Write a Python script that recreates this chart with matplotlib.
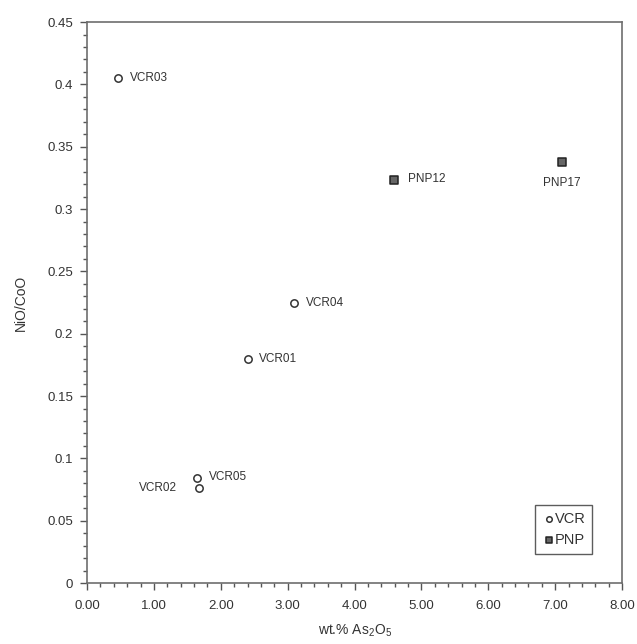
import matplotlib.pyplot as plt
from matplotlib.ticker import MultipleLocator, FormatStrFormatter

plt.rcParams['font.family'] = ['Liberation Sans', 'DejaVu Sans']
plt.rcParams['mathtext.default'] = 'regular'

# data
vcr_names = ['VCR01', 'VCR02', 'VCR03', 'VCR04', 'VCR05']
vcr_x = [2.41, 1.67, 0.46, 3.09, 1.64]
vcr_y = [0.180, 0.076, 0.405, 0.225, 0.084]

pnp_names = ['PNP12', 'PNP17']
pnp_x = [4.59, 7.10]
pnp_y = [0.323, 0.338]

fig = plt.figure(figsize=(6.37, 6.44), dpi=100)
ax = fig.add_axes([0.1366, 0.0947, 0.84, 0.871])

ax.scatter(vcr_x, vcr_y, s=28, facecolors='white', edgecolors='#333333', linewidths=1.1, label='VCR', zorder=3)
ax.scatter(pnp_x, pnp_y, s=30, marker='s', facecolors='#666666', edgecolors='#222222', linewidths=1.1, label='PNP', zorder=3)

# point labels
txt = dict(fontsize=8.5, color='#333333')
offsets = {
    'VCR01': (8, 0, 'left', 'center'),
    'VCR02': (-16, 0, 'right', 'center'),
    'VCR03': (9, 0, 'left', 'center'),
    'VCR04': (9, 0, 'left', 'center'),
    'VCR05': (9, 1, 'left', 'center'),
    'PNP12': (10, 1, 'left', 'center'),
    'PNP17': (0, -11, 'center', 'top'),
}
for n, x, y in zip(vcr_names + pnp_names, vcr_x + pnp_x, vcr_y + pnp_y):
    dx, dy, ha, va = offsets[n]
    ax.annotate(n, (x, y), xytext=(dx, dy), textcoords='offset points', ha=ha, va=va, **txt)

ax.set_xlim(0, 8)
ax.set_ylim(0, 0.45)
ax.xaxis.set_major_locator(MultipleLocator(1))
ax.xaxis.set_minor_locator(MultipleLocator(0.2))
ax.xaxis.set_major_formatter(FormatStrFormatter('%.2f'))
ax.yaxis.set_major_locator(MultipleLocator(0.05))
ax.yaxis.set_minor_locator(MultipleLocator(0.01))
ax.yaxis.set_major_formatter(lambda v, p: ('%.2f' % v).rstrip('0').rstrip('.') if v else '0')

for s in ax.spines.values():
    s.set_color('#6e6e6e')
    s.set_linewidth(1.2)
ax.tick_params(which='both', direction='out', colors='#555555', labelcolor='#333333', labelsize=9.5)
ax.tick_params(which='major', length=5, width=1)
ax.tick_params(which='minor', length=3, width=1)
ax.tick_params(axis='x', pad=7)
ax.tick_params(axis='y', pad=5)

ax.set_xlabel('wt.% As$_2$O$_5$', fontsize=10, color='#333333', labelpad=8)
ax.set_ylabel('NiO/CoO', fontsize=10, color='#333333', labelpad=14)

leg = ax.legend(loc='lower right', bbox_to_anchor=(0.944, 0.052), fontsize=10.5, frameon=True, fancybox=False,
                handletextpad=-0.1, handlelength=1.0, borderpad=0.45, labelspacing=0.5, borderaxespad=0,
                markerscale=0.75)
leg.get_frame().set_edgecolor('#333333')
leg.get_frame().set_linewidth(1.0)
for t in leg.get_texts():
    t.set_color('#333333')

plt.savefig('out.png')
